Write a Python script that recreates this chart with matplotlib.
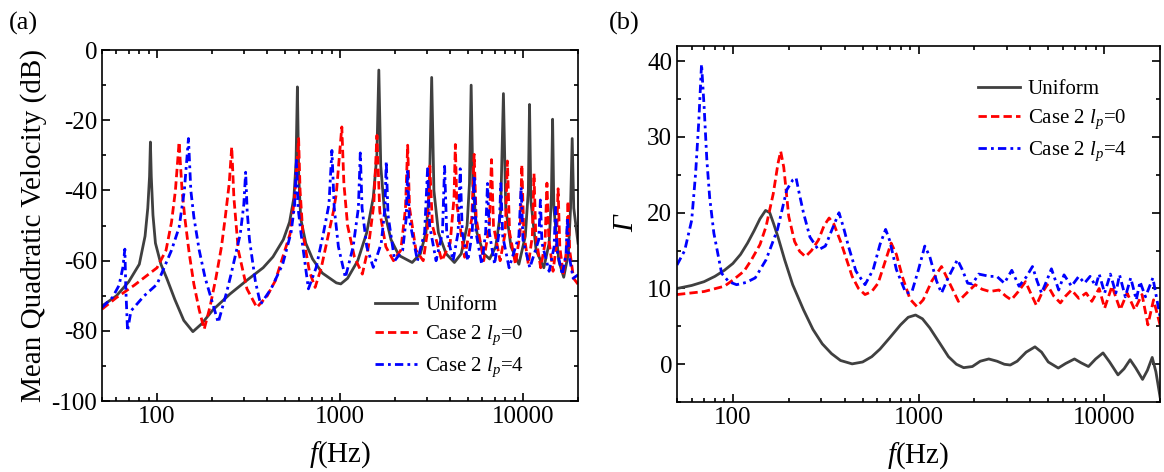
import matplotlib
matplotlib.use("Agg")
import matplotlib.pyplot as plt
import matplotlib.ticker as mticker

plt.rcParams['font.family'] = ['Liberation Serif', 'DejaVu Serif']
plt.rcParams['mathtext.fontset'] = 'custom'
plt.rcParams['mathtext.rm'] = 'Liberation Serif'
plt.rcParams['mathtext.it'] = 'Liberation Serif:italic'
plt.rcParams['axes.unicode_minus'] = False

# ---- panel (a): mean quadratic velocity, dB ----
uni_a_f = [50, 60, 70, 80, 86, 89, 91, 92, 93, 95, 98, 105, 113, 125, 140, 157, 175, 202, 250,
           311, 380, 430, 490, 530, 560, 575, 585, 595, 610, 650, 708, 800, 955, 1010, 1100,
           1250, 1400, 1520, 1590, 1630, 1670, 1750, 1900, 2100, 2480, 2750, 2950, 3080, 3170,
           3260, 3450, 3800, 4220, 4600, 4950, 5100, 5210, 5320, 5600, 6100, 6570, 7100, 7550,
           7820, 8050, 8600, 9500, 10300, 10700, 10860, 11050, 11800, 13000, 13900, 14300,
           14520, 14750, 15700, 16700, 17700, 18200, 18580, 18950, 20000]
uni_a_v = [-72.9, -70, -66, -61, -53, -45, -36, -26.2, -36, -47, -55, -61, -65, -71, -77, -80.2,
           -78, -74, -69.5, -65.5, -62, -58.9, -54, -49, -42, -32, -10.5, -36, -48, -55, -59.5,
           -63.5, -66.3, -66.6, -65, -60, -52, -42, -30, -5.7, -33, -46, -54, -58.5, -60.5, -58,
           -52, -40, -7.8, -40, -52, -58, -60.5, -58, -50, -38, -10, -38, -52, -58, -59.5, -56,
           -46, -12.4, -45, -56, -61, -53, -40, -15.5, -43, -57, -62, -55, -42, -19.7, -45, -60,
           -64.7, -58, -45, -25.2, -45, -55]

red_a_f = [50, 60, 75, 100, 112, 120, 126, 132, 137, 142, 150, 159, 170, 181, 195, 210, 225, 236,
           248, 256, 263, 278, 310, 351, 400, 443, 500, 533, 565, 594, 605, 626, 680, 731, 790,
           850, 920, 954, 1023, 1050, 1100, 1200, 1325, 1430, 1530, 1592, 1650, 1780, 1960, 2150,
           2280, 2343, 2400, 2600, 2850, 3000, 3097, 3200, 3600, 4000, 4200, 4270, 4350, 4800,
           5250, 5410, 5550, 6100, 6550, 6730, 6900, 7500, 8000, 8220, 8450, 9100, 9650, 9860,
           10100, 10700, 11250, 11490, 11750, 12500, 13200, 13520, 13850, 14600, 15200, 15560,
           15900, 16600, 17300, 17630, 18000, 18900, 20000]
red_a_v = [-73.8, -70.5, -67, -62, -57, -49, -40, -26.2, -40, -48, -58, -66.7, -74, -79.5, -73,
           -64.8, -56, -47.6, -38, -27.6, -42, -57, -68, -73.3, -70, -65.7, -57, -52.4, -42, -25.2,
           -40, -52, -63, -67.6, -62, -54.3, -46, -41, -21.9, -38, -50, -59, -63.8, -56, -44,
           -24.3, -46, -56, -60, -57, -45, -27.1, -45, -57, -60, -52, -33, -50, -60, -55, -42,
           -26.9, -44, -59, -48, -29.7, -48, -60, -50, -31.2, -50, -60, -52, -31.6, -52, -61, -52,
           -32.7, -52, -61, -53, -35.2, -53, -62, -55, -37.9, -54, -63, -56, -39.5, -56, -64, -57,
           -43, -57, -65, -66.7]

blue_a_f = [50, 57, 62, 65, 66.7, 67.5, 69, 72, 85, 100, 120, 132, 141, 148.5, 153, 159, 170, 183,
            216, 240, 254, 285, 298, 305, 311, 320, 345, 368, 420, 486, 540, 565, 578, 590, 613,
            672, 740, 810, 870, 903, 930, 980, 1070, 1180, 1260, 1291, 1320, 1400, 1520, 1680,
            1760, 1790, 1830, 1990, 2200, 2300, 2343, 2390, 2650, 2900, 3010, 3090, 3350, 3630,
            3730, 3830, 4150, 4420, 4540, 4660, 5000, 5280, 5410, 5540, 5950, 6250, 6400, 6550,
            7000, 7400, 7570, 7750, 8400, 9500, 9770, 10000, 10900, 12200, 12450, 12700, 13900,
            14800, 15070, 15350, 16400, 17200, 17500, 17800, 18800, 20000]
blue_a_v = [-73.3, -70.5, -67, -62, -56.7, -68, -80, -74.3, -70, -66.7, -57, -50.5, -40, -25.2,
            -40, -47.6, -57, -64.8, -77.6, -69, -63.8, -52.4, -44, -34.8, -46, -54, -66, -72.4,
            -68, -61, -52, -44, -31.4, -45, -52.4, -68, -62, -52.4, -44, -28.6, -45, -56, -64.8,
            -56, -45, -29.3, -45, -56, -61.9, -55, -45, -31.7, -47, -60, -57, -48, -33.8, -48,
            -60, -52, -33.8, -50, -60, -52, -33.1, -52, -60, -52, -33.8, -52, -60, -52, -35.7,
            -52, -61, -52, -38, -52, -61, -52, -38, -53, -62, -53, -39, -54, -62, -54, -42.7,
            -55, -63, -56, -44.8, -57, -64, -58, -47.6, -58, -65, -64]

# ---- panel (b): Gamma ----
uni_b_f = [50, 60, 70, 80, 90, 100, 110, 120, 130, 140, 150, 158, 165, 175, 190, 210, 240, 270,
           303, 340, 380, 439, 500, 560, 620, 700, 800, 880, 964, 1050, 1150, 1300, 1450, 1600,
           1750, 1950, 2150, 2390, 2650, 2900, 3120, 3400, 3800, 4240, 4600, 5000, 5660, 6200,
           6920, 7500, 8230, 9000, 9860, 10700, 11870, 12800, 13800, 14800, 16100, 17100, 18150,
           19000, 20000]
uni_b_v = [10.0, 10.4, 10.9, 11.6, 12.4, 13.3, 14.5, 16.0, 17.6, 19.2, 20.3, 20.0, 18.7, 16.8,
           13.8, 10.5, 7.2, 4.6, 2.7, 1.4, 0.5, 0.05, 0.3, 1.0, 2.0, 3.5, 5.2, 6.2, 6.5, 6.0, 4.8,
           2.8, 1.0, 0.0, -0.45, -0.3, 0.4, 0.7, 0.4, 0.0, -0.1, 0.4, 1.6, 2.3, 1.6, 0.3, -0.5,
           0.1, 0.7, 0.2, -0.3, 0.7, 1.5, 0.3, -1.4, -0.6, 0.6, -0.5, -2.0, -0.8, 0.9, -1.0, -4.3]

red_b_f = [50, 70, 90, 100, 115, 126, 140, 151, 165, 175, 181, 188, 200, 215, 229, 246, 265, 289,
           310, 330, 350, 383, 410, 439, 475, 515, 560, 606, 650, 712, 760, 820, 900, 981, 1060,
           1180, 1330, 1450, 1640, 1800, 2020, 2200, 2420, 2710, 2950, 3160, 3450, 3770, 4000,
           4310, 4600, 4940, 5350, 5810, 6200, 6670, 7300, 8000, 8580, 9400, 10060, 11020, 12200,
           13300, 14600, 16000, 17200, 18450, 20000]
red_b_v = [9.2, 9.6, 10.3, 11.1, 12.3, 13.8, 15.8, 18.2, 22.5, 26.5, 28.1, 26.0, 19.5, 16.2,
           14.9, 14.2, 15.0, 16.4, 18.3, 19.3, 18.5, 16.0, 13.8, 11.6, 10.0, 9.2, 9.6, 10.7, 13.0,
           16.0, 14.5, 11.5, 8.6, 7.6, 8.5, 11.0, 12.9, 11.0, 8.3, 9.3, 10.5, 9.9, 9.6, 9.8, 9.0,
           8.5, 9.6, 10.9, 9.5, 7.8, 9.3, 10.5, 9.0, 8.1, 9.0, 9.8, 8.7, 9.4, 8.3, 10.0, 7.4, 10.3,
           7.2, 9.4, 7.2, 9.2, 5.2, 8.5, 5.2]

blue_b_f = [50, 55, 60, 63, 65.5, 67.8, 70, 72.4, 75, 79, 87, 95, 104.7, 118, 132, 151, 174, 195,
            210, 219, 228, 240, 260, 289, 315, 345, 373, 395, 419, 460, 515, 570, 620, 665, 700,
            760, 855, 920, 1000, 1081, 1150, 1250, 1330, 1450, 1620, 1720, 1840, 1950, 2110, 2420,
            2640, 2900, 3180, 3480, 3800, 4110, 4350, 4600, 4900, 5200, 5690, 6080, 6670, 7300,
            7830, 8400, 9000, 9400, 10060, 10800, 11560, 12100, 13000, 13900, 14900, 15600, 16700,
            18300, 20000]
blue_b_v = [13.1, 15.0, 19.0, 25.2, 32.0, 39.6, 34.0, 27.0, 22.0, 17.3, 12.0, 10.9, 10.5, 10.8,
            11.4, 13.8, 17.8, 23.0, 24.3, 24.6, 22.5, 20.0, 16.8, 15.1, 15.6, 18.0, 20.0, 18.0,
            15.6, 12.3, 10.5, 12.5, 15.8, 17.8, 16.3, 12.5, 9.4, 9.5, 12.5, 15.6, 14.2, 11.0, 9.4,
            11.5, 13.8, 12.5, 10.7, 10.6, 11.9, 11.6, 11.6, 10.7, 12.4, 10.3, 11.5, 12.9, 11.0,
            9.4, 11.0, 12.6, 9.8, 11.8, 10.3, 11.6, 10.7, 11.6, 10.3, 11.9, 9.4, 11.9, 9.4, 11.8,
            8.9, 11.4, 8.5, 10.9, 8.9, 11.4, 6.3]

labels = ['Uniform', 'Case 2 $l_p$=0', 'Case 2 $l_p$=4']
colors = ['#404040', '#ff0000', '#0000ff']

fig = plt.figure(figsize=(11.64, 4.72), dpi=100)
ax1 = fig.add_axes([0.0876, 0.150, 0.409, 0.744])
ax2 = fig.add_axes([0.5816, 0.148, 0.415, 0.7545])


def draw(ax, series):
    (uf, uv), (rf, rv), (bf, bv) = series
    ax.plot(uf, uv, color=colors[0], lw=2.0, label=labels[0])
    ax.plot(rf, rv, color=colors[1], lw=2.0, dashes=(3, 1.5), label=labels[1])
    ax.plot(bf, bv, color=colors[2], lw=2.0, dashes=(3, 1.5, 1, 1.5), label=labels[2])
    ax.set_xscale('log')
    ax.set_xlim(50, 20000)
    ax.xaxis.set_major_locator(mticker.FixedLocator([100, 1000, 10000]))
    ax.xaxis.set_major_formatter(mticker.FuncFormatter(lambda x, pos: f"{int(round(x))}"))
    ax.xaxis.set_minor_locator(mticker.LogLocator(base=10, subs=range(2, 10)))
    ax.xaxis.set_minor_formatter(mticker.NullFormatter())
    ax.tick_params(which='both', direction='in', top=True, right=True, labelsize=18, width=1.2)
    ax.tick_params(which='major', length=6)
    ax.tick_params(which='minor', length=3)
    for s in ax.spines.values():
        s.set_linewidth(1.2)
    ax.set_xlabel('$f$(Hz)', fontsize=21, labelpad=8)


draw(ax1, [(uni_a_f, uni_a_v), (red_a_f, red_a_v), (blue_a_f, blue_a_v)])
ax1.set_ylim(-100, 0)
ax1.yaxis.set_major_locator(mticker.MultipleLocator(20))
ax1.yaxis.set_minor_locator(mticker.MultipleLocator(10))
ax1.set_ylabel('Mean Quadratic Velocity (dB)', fontsize=21, labelpad=3)
ax1.legend(loc='upper left', bbox_to_anchor=(0.574, 0.30), frameon=False, fontsize=15,
           borderaxespad=0, borderpad=0, handlelength=2.0, handletextpad=0.4, labelspacing=0.4)

draw(ax2, [(uni_b_f, uni_b_v), (red_b_f, red_b_v), (blue_b_f, blue_b_v)])
ax2.set_ylim(-5, 42)
ax2.yaxis.set_major_locator(mticker.MultipleLocator(10))
ax2.yaxis.set_minor_locator(mticker.MultipleLocator(5))
ax2.set_ylabel('Γ', fontsize=21, fontstyle='italic', labelpad=6)
ax2.legend(loc='upper left', bbox_to_anchor=(0.623, 0.905), frameon=False, fontsize=15,
           borderaxespad=0, borderpad=0, handlelength=2.0, handletextpad=0.4, labelspacing=0.4)

fig.text(0.008, 0.975, '(a)', fontsize=19, va='top', ha='left')
fig.text(0.523, 0.975, '(b)', fontsize=19, va='top', ha='left')

fig.savefig('out.png', dpi=100)
